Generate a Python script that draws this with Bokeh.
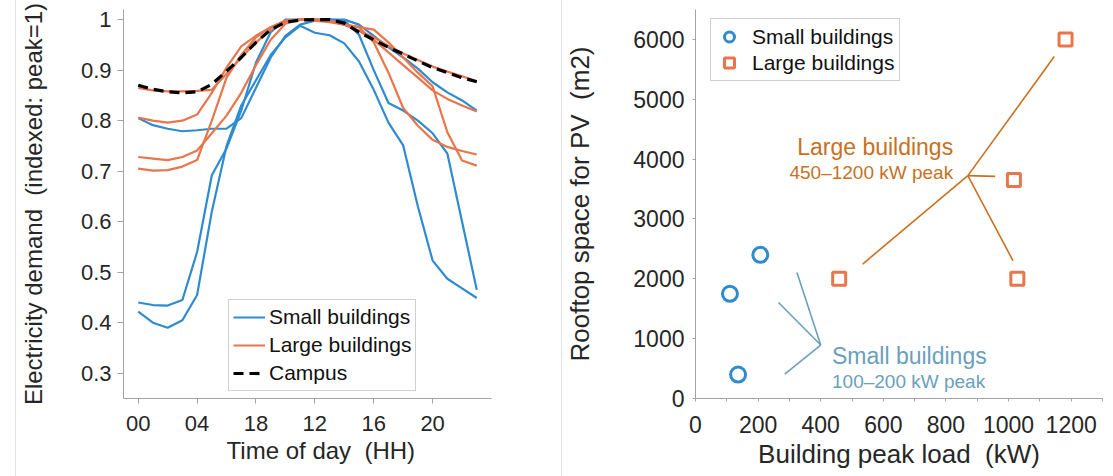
from bokeh.plotting import figure
from bokeh.models import (Legend, LegendItem, FixedTicker, Label, Div, Spacer,
                          Range1d, NumeralTickFormatter)
from bokeh.layouts import row
from bokeh.embed import file_html
from bokeh.resources import INLINE

# ---------------- data ----------------
hours = list(range(24))
x_tick_values = [0, 4, 8, 12, 16, 20]
x_tick_labels = ["00", "04", "18", "12", "16", "20"]

small_1 = [0.805, 0.791, 0.784, 0.779, 0.781, 0.784, 0.784, 0.805, 0.865, 0.925, 0.968, 0.990,
           0.998, 1.000, 1.000, 0.990, 0.968, 0.945, 0.925, 0.903, 0.876, 0.856, 0.840, 0.820]
small_2 = [0.440, 0.435, 0.434, 0.445, 0.540, 0.692, 0.745, 0.820, 0.915, 0.975, 1.000, 1.000,
           1.000, 1.000, 0.998, 0.970, 0.900, 0.835, 0.820, 0.800, 0.775, 0.735, 0.600, 0.465]
small_3 = [0.422, 0.400, 0.390, 0.405, 0.455, 0.620, 0.750, 0.830, 0.880, 0.930, 0.965, 0.988,
           0.974, 0.969, 0.953, 0.917, 0.861, 0.796, 0.751, 0.630, 0.523, 0.487, 0.468, 0.449]

large_1 = [0.865, 0.860, 0.858, 0.858, 0.859, 0.861, 0.893, 0.925, 0.955, 0.980, 0.995, 1.000,
           1.000, 0.998, 0.990, 0.978, 0.965, 0.948, 0.933, 0.920, 0.907, 0.897, 0.888, 0.878]
large_2 = [0.806, 0.800, 0.796, 0.800, 0.812, 0.855, 0.905, 0.947, 0.968, 0.985, 0.997, 1.000,
           1.000, 0.998, 0.990, 0.978, 0.960, 0.935, 0.910, 0.885, 0.860, 0.843, 0.830, 0.818]
large_3 = [0.728, 0.725, 0.722, 0.728, 0.741, 0.775, 0.810, 0.855, 0.910, 0.960, 0.992, 1.000,
           0.998, 0.995, 0.990, 0.985, 0.955, 0.895, 0.825, 0.790, 0.762, 0.748, 0.740, 0.733]
large_4 = [0.705, 0.701, 0.702, 0.709, 0.722, 0.800, 0.885, 0.930, 0.965, 0.985, 0.998, 1.000,
           1.000, 0.997, 0.990, 0.985, 0.980, 0.955, 0.925, 0.895, 0.868, 0.777, 0.721, 0.711]
campus = [0.870, 0.862, 0.857, 0.855, 0.857, 0.872, 0.898, 0.925, 0.955, 0.980, 0.995, 0.999,
          1.000, 1.000, 0.993, 0.975, 0.960, 0.945, 0.932, 0.918, 0.905, 0.895, 0.885, 0.877]

small_peak_kw = [110, 207, 136]
small_roof_m2 = [1750, 2400, 400]
large_peak_kw = [459, 1017, 1028, 1182]
large_roof_m2 = [2000, 3650, 2000, 6000]

right_x_ticks = [0, 200, 400, 600, 800, 1000, 1200]
right_x_minor = [100, 300, 500, 700, 900, 1100, 1300]
right_y_ticks = [0, 1000, 2000, 3000, 4000, 5000, 6000]

# callout geometry (annotation only)
large_hub = (870, 3724)
large_ends_x = [534, 1146, 957, 1014]
large_ends_y = [2247, 5714, 3712, 2303]
small_hub = (400, 893)
small_ends_x = [324, 265, 285]
small_ends_y = [2107, 1605, 408]

# ---------------- style ----------------
FONT = "Liberation Sans"
BLUE = "#2f8bd0"
ORANGE = "#e8754b"
AX = "#a3a3a3"
TXT = "#262626"
ANN_L = "#c8711f"
ANN_S = "#6aa0ba"
SP2 = "\u00a0 "


def style_axes(p, tick_size, label_size):
    for ax in (p.xaxis, p.yaxis):
        ax.axis_line_color = AX
        ax.major_tick_line_color = AX
        ax.minor_tick_line_color = None
        ax.major_tick_in = 0
        ax.major_label_text_font = FONT
        ax.major_label_text_font_size = tick_size
        ax.major_label_text_color = TXT
        ax.axis_label_text_font = FONT
        ax.axis_label_text_font_size = label_size
        ax.axis_label_text_font_style = "normal"
        ax.axis_label_text_color = TXT
    p.grid.visible = False
    p.outline_line_color = None


# ---------------- left figure ----------------
p1 = figure(width=545, height=476, x_range=Range1d(-1, 24), y_range=Range1d(0.25, 1.02),
            output_backend="svg", toolbar_location=None,
            min_border_left=106, min_border_right=70, min_border_top=9, min_border_bottom=73)
style_axes(p1, "22px", "24px")
p1.xaxis.ticker = FixedTicker(ticks=x_tick_values)
p1.xaxis.major_label_overrides = dict(zip(x_tick_values, x_tick_labels))
p1.yaxis.ticker = FixedTicker(ticks=[0.3, 0.4, 0.5, 0.6, 0.7, 0.8, 0.9, 1.0])
p1.yaxis.formatter = NumeralTickFormatter(format="0.[0]")
p1.xaxis.major_tick_out = 5
p1.yaxis.major_tick_out = 6
p1.xaxis.major_label_standoff = 12
p1.yaxis.major_label_standoff = 6
p1.xaxis.major_label_text_line_height = 1.0
p1.xaxis.axis_label_text_line_height = 1.0
p1.xaxis.axis_label = "\u00a0\u00a0\u00a0\u00a0Time of day" + SP2 + "(HH)"
p1.yaxis.axis_label = "Electricity demand" + SP2 + "(indexed: peak=1)"
p1.xaxis.axis_label_standoff = 3
p1.yaxis.axis_label_standoff = 31

small_r = [p1.line(hours, s, line_color=BLUE, line_width=2.2) for s in (small_1, small_2, small_3)]
large_r = [p1.line(hours, s, line_color=ORANGE, line_width=2.2) for s in (large_1, large_2, large_3, large_4)]
campus_r = p1.line(hours, campus, line_color="black", line_width=3.2, line_dash="10 6")

leg1 = Legend(items=[LegendItem(label="Small buildings", renderers=[small_r[0]]),
                     LegendItem(label="Large buildings", renderers=[large_r[0]]),
                     LegendItem(label="Campus", renderers=[campus_r])],
              location=(105, 7), margin=0, padding=4, spacing=2,
              glyph_width=32, glyph_height=26, label_height=26, label_standoff=4,
              label_text_font=FONT, label_text_font_size="21px", label_text_color="#111111",
              border_line_color="#a0a0a0", border_line_width=1.2, background_fill_alpha=1)
p1.add_layout(leg1)

# ---------------- right figure ----------------
p2 = figure(width=551, height=476, x_range=Range1d(0, 1300), y_range=Range1d(0, 6500),
            output_backend="svg", toolbar_location=None,
            min_border_left=129, min_border_right=11, min_border_top=9, min_border_bottom=78)
style_axes(p2, "23px", "26px")
p2.xaxis.ticker = FixedTicker(ticks=right_x_ticks, minor_ticks=right_x_minor)
p2.xaxis.minor_tick_line_color = AX
p2.xaxis.minor_tick_in = 0
p2.xaxis.minor_tick_out = 3
p2.xaxis.major_tick_out = 3
p2.yaxis.major_tick_out = 3
p2.yaxis.ticker = FixedTicker(ticks=right_y_ticks)
p2.xaxis.major_label_standoff = 14
p2.yaxis.major_label_standoff = 8
p2.xaxis.axis_label = "Building peak load" + SP2 + "(kW)"
p2.yaxis.axis_label = "Rooftop space for PV" + SP2 + "(m2)"
p2.xaxis.axis_label_standoff = 3
p2.yaxis.axis_label_standoff = 35

p2.segment(x0=[large_hub[0]] * len(large_ends_x), y0=[large_hub[1]] * len(large_ends_y),
           x1=large_ends_x, y1=large_ends_y, line_color=ANN_L, line_width=1.6)
p2.segment(x0=[small_hub[0]] * len(small_ends_x), y0=[small_hub[1]] * len(small_ends_y),
           x1=small_ends_x, y1=small_ends_y, line_color=ANN_S, line_width=1.6)

rs = p2.scatter(small_peak_kw, small_roof_m2, marker="circle", size=15, fill_color=None,
                line_color=BLUE, line_width=3)
rl = p2.scatter(large_peak_kw, large_roof_m2, marker="square", size=13, fill_color=None,
                line_color=ORANGE, line_width=3)

p2.add_layout(Label(x=823, y=4195, text="Large buildings", text_align="right",
                    text_baseline="alphabetic", text_font=FONT, text_font_size="23px",
                    text_color=ANN_L))
p2.add_layout(Label(x=823, y=3770, text="450\u20131200 kW peak", text_align="right",
                    text_baseline="alphabetic", text_font=FONT, text_font_size="19px",
                    text_color=ANN_L))
p2.add_layout(Label(x=436, y=714, text="Small buildings", text_align="left",
                    text_baseline="alphabetic", text_font=FONT, text_font_size="23px",
                    text_color=ANN_S))
p2.add_layout(Label(x=436, y=285, text="100\u2013200 kW peak", text_align="left",
                    text_baseline="alphabetic", text_font=FONT, text_font_size="19px",
                    text_color=ANN_S))

leg2 = Legend(items=[LegendItem(label="Small buildings", renderers=[rs]),
                     LegendItem(label="Large buildings", renderers=[rl])],
              location=(15, 317), margin=0, padding=5, spacing=1,
              glyph_width=26, glyph_height=25, label_height=25, label_standoff=10,
              label_text_font=FONT, label_text_font_size="21px", label_text_color="#111111",
              border_line_color="#a0a0a0", border_line_width=1.2, background_fill_alpha=1)
p2.add_layout(leg2)

sep_style = {"background-color": "#e4e4e4"}
layout = row(Spacer(width=15, height=476, margin=0),
             Div(text="", width=1, height=476, margin=0, styles=sep_style),
             p1,
             Div(text="", width=1, height=476, margin=0, styles=sep_style),
             p2)

open("out.html", "w").write(file_html(layout, INLINE))
